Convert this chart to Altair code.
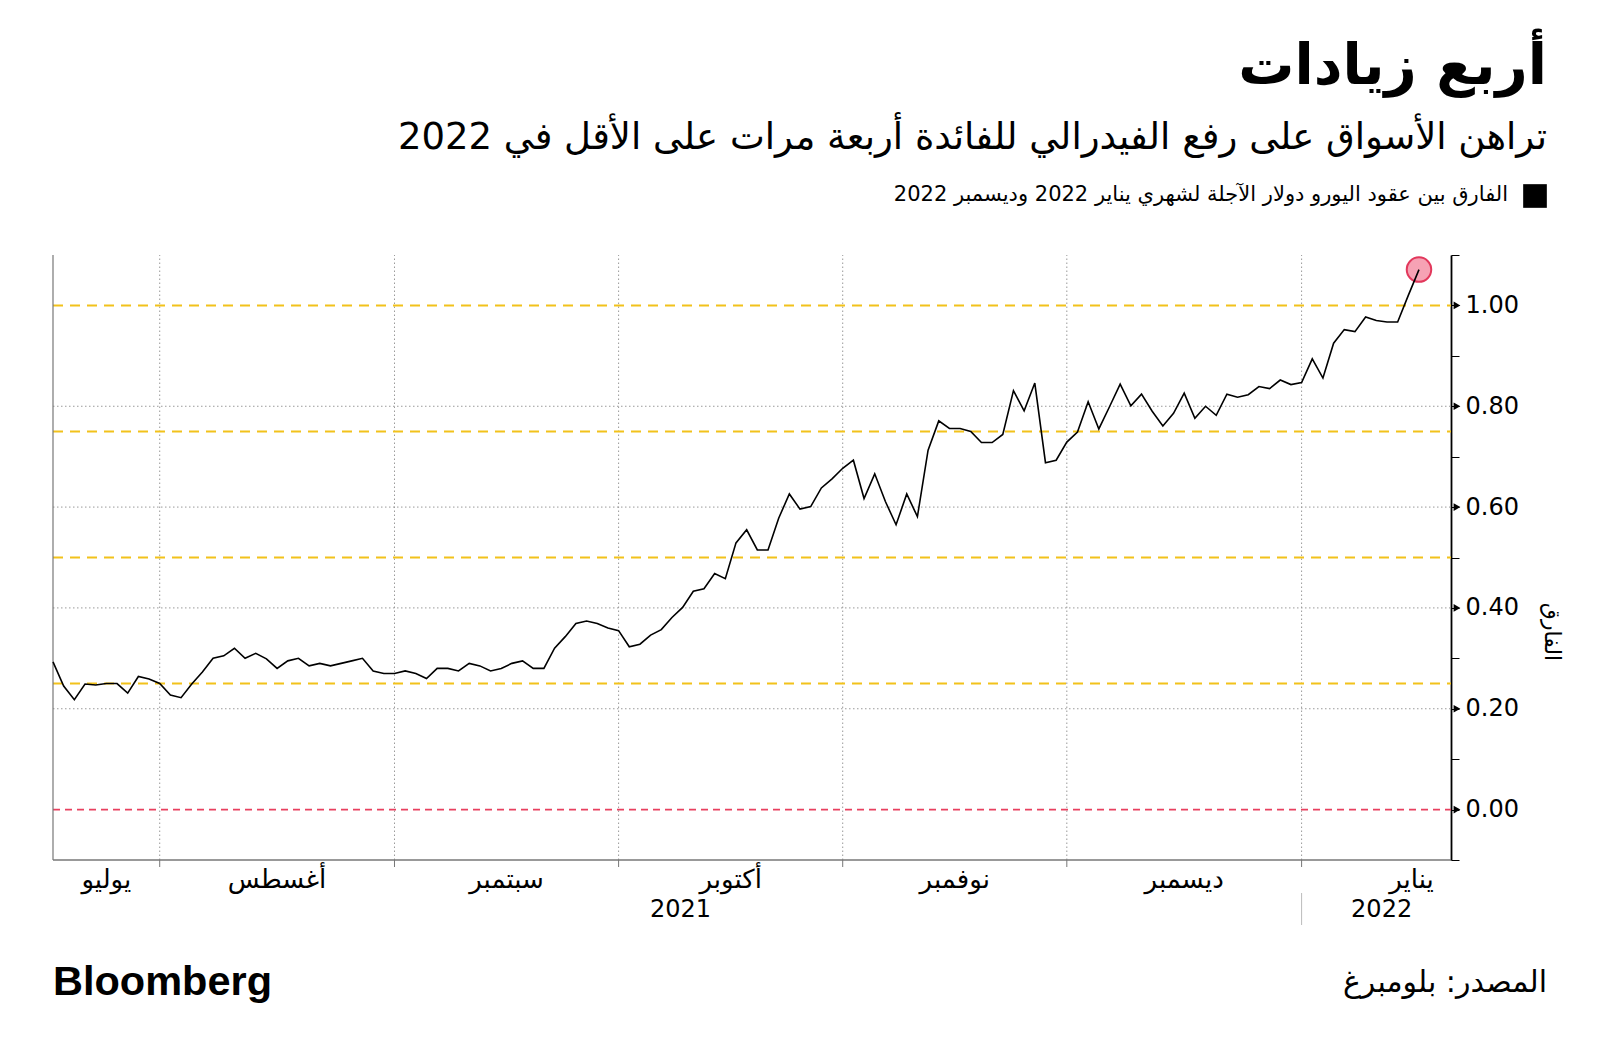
import altair as alt
import pandas as pd

# ---- data ----
spread = [
    0.293, 0.245, 0.218, 0.249, 0.247, 0.250, 0.250, 0.231, 0.264, 0.259,
    0.250, 0.227, 0.222, 0.249, 0.273, 0.300, 0.305, 0.320, 0.300, 0.310,
    0.299, 0.280, 0.295, 0.300, 0.285, 0.290, 0.285, 0.290, 0.295, 0.300,
    0.275, 0.270, 0.270, 0.275, 0.270, 0.260, 0.280, 0.280, 0.275, 0.290,
    0.285, 0.275, 0.280, 0.290, 0.295, 0.280, 0.280, 0.320, 0.343, 0.369,
    0.374, 0.369, 0.360, 0.355, 0.323, 0.328, 0.346, 0.357, 0.381, 0.401,
    0.433, 0.438, 0.468, 0.458, 0.529, 0.555, 0.515, 0.515, 0.578, 0.626,
    0.596, 0.601, 0.638, 0.656, 0.677, 0.693, 0.617, 0.666, 0.611, 0.565,
    0.626, 0.581, 0.713, 0.771, 0.756, 0.756, 0.750, 0.728, 0.728, 0.744,
    0.831, 0.791, 0.846, 0.688, 0.693, 0.729, 0.749, 0.809, 0.755, 0.799,
    0.844, 0.801, 0.824, 0.790, 0.761, 0.786, 0.826, 0.776, 0.800, 0.782,
    0.824, 0.818, 0.823, 0.839, 0.835, 0.852, 0.843, 0.847, 0.894, 0.856,
    0.925, 0.952, 0.948, 0.977, 0.970, 0.967, 0.967, 1.020, 1.071,
]
month_starts = [10, 32, 53, 74, 95, 117]
month_names = ["يوليو", "أغسطس", "سبتمبر", "أكتوبر", "نوفمبر", "ديسمبر", "يناير"]
month_centers = [5, 21, 42.5, 63.5, 84.5, 106, 127.3]
year_names = ["2021", "2022"]
year_centers = [58.8, 124.5]
year_divider = [117]
target_levels = [0.25, 0.5, 0.75, 1.0]
grid_levels = [0.2, 0.4, 0.6, 0.8]
zero_level = [0.0]
y_ticks = [-0.1, 0.0, 0.1, 0.2, 0.3, 0.4, 0.5, 0.6, 0.7, 0.8, 0.9, 1.0, 1.1]
y_marked = [0.0, 0.2, 0.4, 0.6, 0.8, 1.0]
X_MIN, X_MAX = 0, 131
Y_MIN, Y_MAX = -0.1, 1.1

TITLE = "أربع زيادات"
SUBTITLE = "تراهن الأسواق على رفع الفيدرالي للفائدة أربعة مرات على الأقل في 2022"
LEGEND = "الفارق بين عقود اليورو دولار الآجلة لشهري يناير 2022 وديسمبر 2022"
Y_TITLE = "الفارق"
SOURCE = "المصدر: بلومبرغ"
BRAND = "Bloomberg"

W, H = 1398, 605
FONT = "DejaVu Sans"

df = pd.DataFrame({"i": list(range(len(spread))), "v": spread})
last = df.tail(1)

xs = alt.Scale(domain=[X_MIN, X_MAX], nice=False, zero=False)
ys = alt.Scale(domain=[Y_MIN, Y_MAX], nice=False, zero=False)

Y_AXIS = alt.Axis(
    orient="right",
    values=y_ticks,
    labelExpr="abs(round(datum.value*10)) % 2 == 0 ? format(datum.value, '.2f') : ''",
    grid=False,
    domainColor="#000000",
    domainWidth=1.8,
    tickColor="#000000",
    tickWidth=1,
    tickSize=8,
    labelPadding=6,
    labelFont=FONT,
    labelFontSize=24,
    labelColor="#000000",
    title=None,
)


def X(field):
    return alt.X(field, scale=xs, axis=None)


def Y(field):
    return alt.Y(field, scale=ys, axis=Y_AXIS)


# vertical month grid
vgrid = alt.Chart(pd.DataFrame({"x": month_starts, "y1": Y_MIN, "y2": Y_MAX})).mark_rule(
    color="#9a9a9a", strokeDash=[1.5, 2.5], strokeWidth=1
).encode(x=X("x:Q"), y=Y("y1:Q"), y2="y2:Q")

# month ticks under the axis
vticks = alt.Chart(pd.DataFrame({"x": month_starts})).mark_rule(
    color="#777777", strokeWidth=1
).encode(x=X("x:Q"), y=alt.value(H), y2=alt.value(H + 7))

# horizontal grid
hgrid = alt.Chart(pd.DataFrame({"y": grid_levels, "x1": X_MIN, "x2": X_MAX})).mark_rule(
    color="#9a9a9a", strokeDash=[1.5, 2.5], strokeWidth=1
).encode(y=Y("y:Q"), x=X("x1:Q"), x2="x2:Q")

# yellow target lines
targets = alt.Chart(pd.DataFrame({"y": target_levels, "x1": X_MIN, "x2": X_MAX})).mark_rule(
    color="#f2c21b", strokeDash=[10, 7], strokeWidth=2
).encode(y=Y("y:Q"), x=X("x1:Q"), x2="x2:Q")

# red zero line
zero = alt.Chart(pd.DataFrame({"y": zero_level, "x1": X_MIN, "x2": X_MAX})).mark_rule(
    color="#e8405f", strokeDash=[7, 5], strokeWidth=1.6
).encode(y=Y("y:Q"), x=X("x1:Q"), x2="x2:Q")

# left border and bottom axis line
left_border = alt.Chart(pd.DataFrame({"x": [X_MIN], "y1": Y_MIN, "y2": Y_MAX})).mark_rule(
    color="#777777", strokeWidth=1.2
).encode(x=X("x:Q"), y=Y("y1:Q"), y2="y2:Q")
bottom_line = alt.Chart(pd.DataFrame({"y": [Y_MIN], "x1": X_MIN, "x2": X_MAX})).mark_rule(
    color="#777777", strokeWidth=1.5
).encode(y=Y("y:Q"), x=X("x1:Q"), x2="x2:Q")

# highlighted last point
dot = alt.Chart(last).mark_circle(
    size=600, color="#f6a2b4", opacity=1, stroke="#e2385c", strokeWidth=2
).encode(x=X("i:Q"), y=Y("v:Q"))

line = alt.Chart(df).mark_line(color="#000000", strokeWidth=1.6).encode(
    x=X("i:Q"), y=Y("v:Q")
)

arrows = alt.Chart(pd.DataFrame({"x": X_MAX, "y": y_marked})).mark_point(
    shape="triangle-right", filled=True, size=60, color="#000000", opacity=1, xOffset=6
).encode(x=X("x:Q"), y=Y("y:Q"))

months = alt.Chart(pd.DataFrame({"x": month_centers, "t": month_names})).mark_text(
    font=FONT, fontSize=26, color="#000000", baseline="middle", align="center"
).encode(x=X("x:Q"), y=alt.value(H + 20), text="t:N")

years = alt.Chart(pd.DataFrame({"x": year_centers, "t": year_names})).mark_text(
    font=FONT, fontSize=24, color="#000000", baseline="middle", align="center"
).encode(x=X("x:Q"), y=alt.value(H + 50), text="t:N")

divider = alt.Chart(pd.DataFrame({"x": year_divider})).mark_rule(
    color="#bbbbbb", strokeWidth=1
).encode(x=X("x:Q"), y=alt.value(H + 33), y2=alt.value(H + 65))


def txt(s, x, y, size, weight="normal", align="right", font=FONT, angle=0):
    return alt.Chart(pd.DataFrame({"t": [s]})).mark_text(
        font=font, fontSize=size, fontWeight=weight, align=align, baseline="middle",
        color="#000000", angle=angle
    ).encode(x=alt.value(x), y=alt.value(y), text="t:N")


title = txt(TITLE, 1494, -188, 56, "bold")
subtitle = txt(SUBTITLE, 1494, -117, 37)
legend_text = txt(LEGEND, 1455, -60, 21)
legend_box = alt.Chart(pd.DataFrame({"t": [0]})).mark_square(
    size=560, color="#000000", opacity=1
).encode(x=alt.value(1482), y=alt.value(-59))
y_title = txt(Y_TITLE, 1499, 377, 22, angle=90, align="center")
source = txt(SOURCE, 1494, 728, 30)
brand = txt(BRAND, 0, 728, 41.5, "bold", align="left", font="Liberation Sans")

chart = alt.layer(
    vgrid, hgrid, targets, zero, left_border, bottom_line, vticks, dot, line, arrows,
    months, years, divider, title, subtitle, legend_text, legend_box, y_title, source, brand,
).properties(
    width=W,
    height=H,
    autosize=alt.AutoSizeParams(type="none"),
    padding={"left": 45, "top": 247, "right": 141, "bottom": 188},
    background="#ffffff",
).configure_view(stroke=None)

chart.save("out.html", embed_options={"renderer": "svg", "actions": False})
